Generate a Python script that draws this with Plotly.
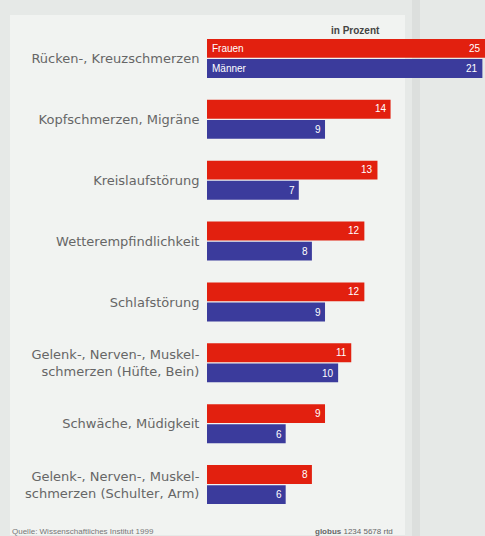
import plotly.graph_objects as go

categories = [
    "Rücken-, Kreuzschmerzen",
    "Kopfschmerzen, Migräne",
    "Kreislaufstörung",
    "Wetterempfindlichkeit",
    "Schlafstörung",
    "Gelenk-, Nerven-, Muskel-<br>schmerzen (Hüfte, Bein)",
    "Schwäche, Müdigkeit",
    "Gelenk-, Nerven-, Muskel-<br>schmerzen (Schulter, Arm)",
]
frauen = [25, 14, 13, 12, 12, 11, 9, 8]
maenner = [21, 9, 7, 8, 9, 10, 6, 6]
series_names = ["Frauen", "Männer"]

RED = "#e2200f"
BLUE = "#3b3b9c"
XMAX = 21.2
PW = 278.0  # plot width px
PH = 487.0  # plot height px

fig = go.Figure()
fig.add_trace(go.Bar(y=categories, x=frauen, orientation="h", name=series_names[0],
                     marker=dict(color=RED, line=dict(width=0))))
fig.add_trace(go.Bar(y=categories, x=maenner, orientation="h", name=series_names[1],
                     marker=dict(color=BLUE, line=dict(width=0))))

annotations = []
for i, c in enumerate(categories):
    for vals, off in ((frauen, -0.17), (maenner, 0.17)):
        v = vals[i]
        annotations.append(dict(
            x=min(v, XMAX), y=i + off, xref="x", yref="y", text=str(v),
            showarrow=False, xanchor="right", xshift=-2,
            font=dict(color="white", size=10, family="Liberation Sans")))
for name, off in ((series_names[0], -0.17), (series_names[1], 0.17)):
    annotations.append(dict(x=0, y=off, xref="x", yref="y", text=name,
                            showarrow=False, xanchor="left", xshift=3,
                            font=dict(color="white", size=10, family="Liberation Sans")))
annotations.append(dict(x=(355 - 207) / PW, y=1, xref="paper", yref="paper",
                        text="<b>in Prozent</b>", showarrow=False,
                        xanchor="center", yanchor="middle", yshift=-2,
                        font=dict(size=10, color="#444", family="Liberation Sans")))
annotations.append(dict(x=-207 / PW, y=-0.02, xref="paper", yref="paper",
                        text="Quelle: Wissenschaftliches Institut 1999", showarrow=False,
                        xanchor="left", yanchor="top", xshift=10,
                        font=dict(size=8, color="#777")))
annotations.append(dict(x=(395 - 207) / PW, y=-0.02, xref="paper", yref="paper",
                        text="<b>globus</b> 1234 5678 rtd", showarrow=False,
                        xanchor="right", yanchor="top",
                        font=dict(size=8, color="#666")))

fig.update_layout(
    width=485, height=536,
    margin=dict(l=207, r=0, t=28, b=21),
    paper_bgcolor="#e6e9e7",
    plot_bgcolor="rgba(0,0,0,0)",
    barmode="group", bargap=0.34, bargroupgap=0.06,
    showlegend=False,
    annotations=annotations,
    font=dict(family="Liberation Sans", color="#666"),
    shapes=[
        dict(type="rect", xref="paper", yref="paper", x0=(10 - 207) / PW, x1=(405 - 207) / PW,
             y0=-20 / PH, y1=1 + 13 / PH, fillcolor="#f1f3f1", line=dict(width=0), layer="below"),
        dict(type="rect", xref="paper", yref="paper", x0=(412 - 207) / PW, x1=(420 - 207) / PW,
             y0=-21 / PH, y1=1 + 28 / PH, fillcolor="#dcdfdd", line=dict(width=0), layer="below"),
    ],
)

fig.update_xaxes(range=[0, XMAX], visible=False, fixedrange=True)
fig.update_yaxes(autorange="reversed", showgrid=False, showline=False, zeroline=False,
                 ticks="outside", ticklen=4, tickcolor="rgba(0,0,0,0)",
                 tickfont=dict(size=13, color="#666", family="DejaVu Sans"))

fig.write_html("out.html")
